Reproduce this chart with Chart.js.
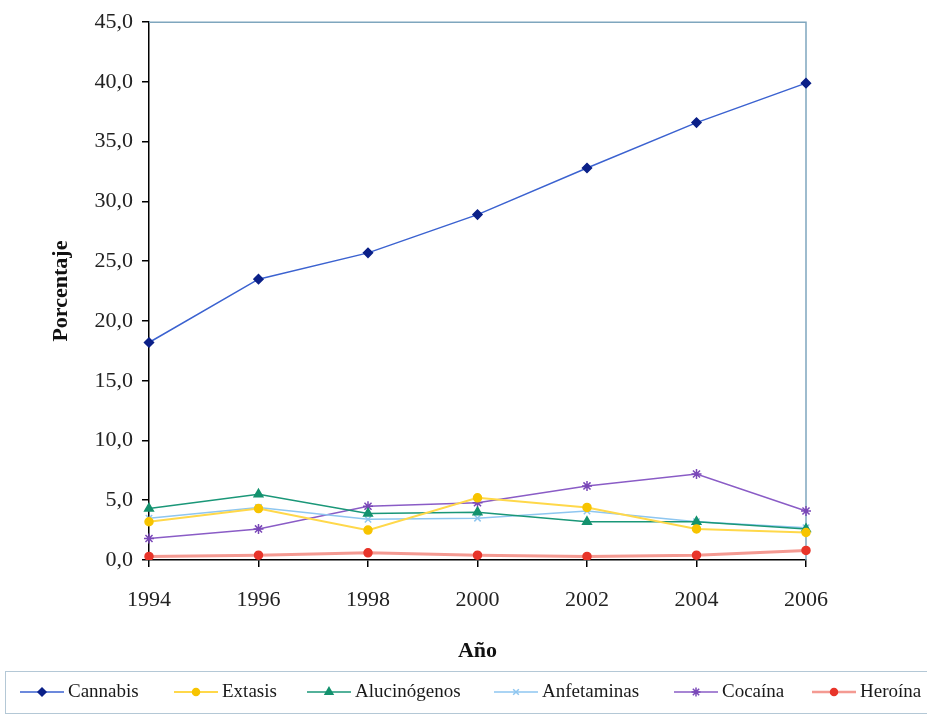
<!DOCTYPE html>
<html>
<head>
<meta charset="utf-8">
<script src="https://cdn.jsdelivr.net/npm/chart.js@4/dist/chart.umd.min.js"></script>
<style>
  body { margin: 0; background: #fff; }
  canvas { display: block; }
</style>
</head>
<body>
<canvas id="chart" width="927" height="718"></canvas>
<script>
// años y porcentajes
const years = ["1994", "1996", "1998", "2000", "2002", "2004", "2006"];
const cannabis = [18.2, 23.5, 25.7, 28.9, 32.8, 36.6, 39.9];
const extasis = [3.2, 4.3, 2.5, 5.2, 4.4, 2.6, 2.3];
const alucinogenos = [4.3, 5.5, 3.9, 4.0, 3.2, 3.2, 2.6];
const anfetaminas = [3.5, 4.4, 3.4, 3.5, 4.1, 3.2, 2.7];
const cocaina = [1.8, 2.6, 4.5, 4.8, 6.2, 7.2, 4.1];
const heroina = [0.3, 0.4, 0.6, 0.4, 0.3, 0.4, 0.8];
const yTicks = { min: 0, max: 45, step: 5 };

const serif = "'Liberation Serif', 'DejaVu Serif', serif";

function serie(label, data, line, point, style, radius, width) {
  return {
    label: label,
    data: data,
    borderColor: line,
    backgroundColor: point,
    pointBackgroundColor: point,
    pointBorderColor: point,
    pointStyle: style,
    pointRadius: radius,
    pointBorderWidth: 1.5,
    borderWidth: width,
    tension: 0
  };
}

// marco superior y derecho + leyenda dibujada abajo
const marco = {
  id: "marco",
  beforeDatasetsDraw(chart) {
    const { ctx, chartArea: a } = chart;
    ctx.save();
    ctx.strokeStyle = "#7fa6be";
    ctx.lineWidth = 1.5;
    ctx.beginPath();
    ctx.moveTo(a.left, a.top);
    ctx.lineTo(a.right, a.top);
    ctx.lineTo(a.right, a.bottom);
    ctx.stroke();
    ctx.restore();
  },
  afterDraw(chart) {
    const ctx = chart.ctx;
    const starts = [20, 174, 307, 494, 674, 812];
    const cy = 692;
    ctx.save();
    ctx.strokeStyle = "#b4c8d6";
    ctx.lineWidth = 1;
    ctx.strokeRect(5.5, 671.5, 940, 42);
    ctx.font = "19px " + serif;
    ctx.textBaseline = "middle";
    chart.data.datasets.forEach((ds, i) => {
      const x0 = starts[i];
      ctx.strokeStyle = ds.borderColor;
      ctx.lineWidth = Math.min(ds.borderWidth, 2.5);
      ctx.beginPath();
      ctx.moveTo(x0, cy);
      ctx.lineTo(x0 + 44, cy);
      ctx.stroke();
      ctx.fillStyle = ds.pointBackgroundColor;
      ctx.strokeStyle = ds.pointBorderColor;
      ctx.lineWidth = 1.5;
      Chart.helpers.drawPoint(ctx, { pointStyle: ds.pointStyle, radius: ds.pointRadius - 0.5, rotation: 0, borderWidth: 1.5 }, x0 + 22, cy);
      ctx.fillStyle = "#1a1a1a";
      ctx.fillText(ds.label, x0 + 48, cy);
    });
    ctx.restore();
  }
};

new Chart(document.getElementById("chart"), {
  type: "line",
  data: {
    labels: years,
    datasets: [
      serie("Cannabis", cannabis, "#3b62d0", "#0b2088", "rectRot", 4.5, 1.5),
      serie("Extasis", extasis, "#ffd84a", "#f7c400", "circle", 4, 2),
      serie("Alucinógenos", alucinogenos, "#1a9778", "#14926e", "triangle", 5, 1.5),
      serie("Anfetaminas", anfetaminas, "#8ec6f0", "#8ec6f0", "crossRot", 4.5, 1.5),
      serie("Cocaína", cocaina, "#8a5cc6", "#7a48b8", "star", 5, 1.5),
      serie("Heroína", heroina, "rgba(240,120,110,0.75)", "#e8352a", "circle", 4, 3)
    ]
  },
  options: {
    responsive: false,
    animation: false,
    layout: { padding: { top: 18, right: 121, left: 0, bottom: 0 } },
    plugins: {
      legend: { display: false },
      tooltip: { enabled: false }
    },
    scales: {
      x: {
        offset: false,
        afterFit(scale) { scale.height = 158; },
        grid: { display: true, drawOnChartArea: false, tickLength: 7, color: "#000", lineWidth: 1.5 },
        border: { display: true, color: "#000", width: 1.5 },
        ticks: { color: "#222", padding: 20, font: { family: serif, size: 22 } },
        title: {
          display: true,
          text: "Año",
          color: "#111",
          font: { family: serif, size: 22, weight: "bold" },
          padding: { top: 0, bottom: 53 }
        }
      },
      y: {
        min: yTicks.min,
        max: yTicks.max,
        afterFit(scale) { scale.width = 149; },
        grid: { display: true, drawOnChartArea: false, tickLength: 7, color: "#000", lineWidth: 1.5 },
        border: { display: true, color: "#000", width: 1.5 },
        ticks: {
          stepSize: yTicks.step,
          color: "#222",
          padding: 9,
          font: { family: serif, size: 22 },
          callback: v => v.toFixed(1).replace(".", ",")
        },
        title: {
          display: true,
          text: "Porcentaje",
          color: "#111",
          font: { family: serif, size: 22, weight: "bold" },
          padding: { top: 48, bottom: 0 }
        }
      }
    }
  },
  plugins: [marco]
});
</script>
</body>
</html>
